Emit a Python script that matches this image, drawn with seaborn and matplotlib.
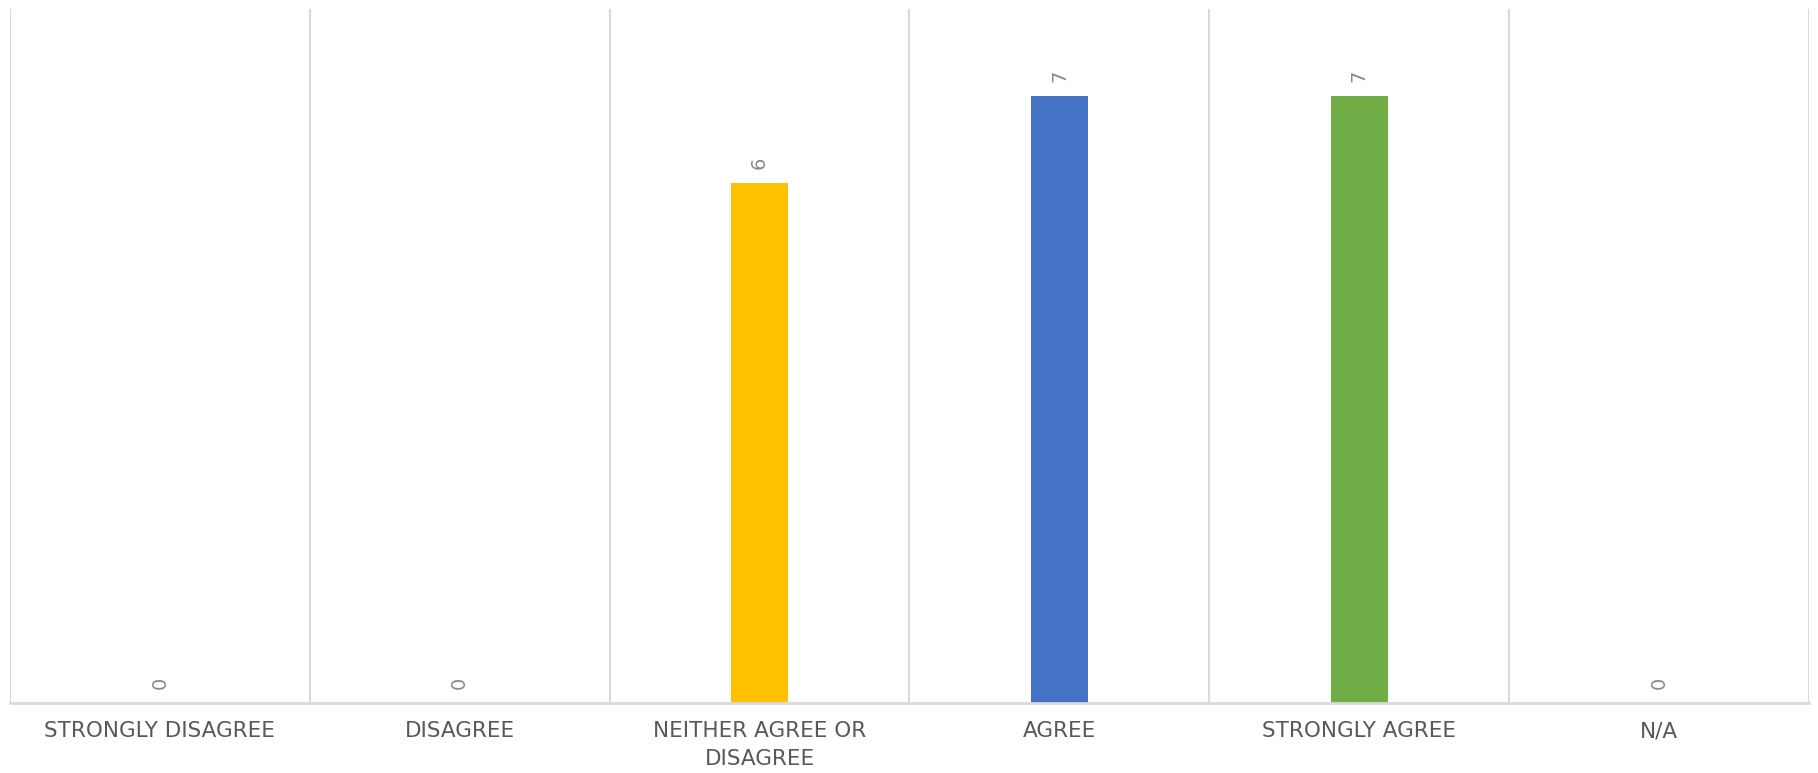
import matplotlib
matplotlib.use("Agg")
import matplotlib.pyplot as plt
import seaborn as sns
import pandas as pd

categories = ["STRONGLY DISAGREE", "DISAGREE", "NEITHER AGREE OR\nDISAGREE",
              "AGREE", "STRONGLY AGREE", "N/A"]
values = [0, 0, 6, 7, 7, 0]
colors = ["#5B9BD5", "#ED7D31", "#FFC000", "#4472C4", "#70AD47", "#A5A5A5"]

sns.set_theme(style="white")
plt.rcParams['font.family'] = ['DejaVu Sans']

df = pd.DataFrame({"cat": categories, "val": values})

fig = plt.figure(figsize=(18.18, 7.73), dpi=100)
ax = fig.add_axes([10/1818, 70/773, 1799/1818, 694/773])

sns.barplot(data=df, x="cat", y="val", hue="cat", palette=colors,
            width=0.19, legend=False, ax=ax, saturation=1, dodge=False,
            linewidth=0)

for c in ax.containers:
    ax.bar_label(c, rotation=90, padding=10, color="#8a8a8a", fontsize=14)

ax.set_ylim(0, 8)
ax.set_xlim(-0.5, len(categories) - 0.5)
ax.set_xlabel("")
ax.set_ylabel("")
ax.set_yticks([])
ax.set_xticks(range(len(categories)))
ax.set_xticklabels(categories, color="#595959", fontsize=15.5, linespacing=1.5)
ax.tick_params(axis="x", length=0, pad=13)
ax.set_xticks([i - 0.5 for i in range(len(categories) + 1)], minor=True)
ax.tick_params(axis="x", which="minor", length=0)
ax.grid(axis="x", which="minor", color="#d9d9d9", linewidth=1.5)
ax.grid(axis="x", which="major", visible=False)
ax.set_axisbelow(True)
for s in ["top", "right", "left"]:
    ax.spines[s].set_visible(False)
ax.spines["bottom"].set_color("#d9d9d9")
ax.spines["bottom"].set_linewidth(2)

fig.savefig("out.png", dpi=100)
